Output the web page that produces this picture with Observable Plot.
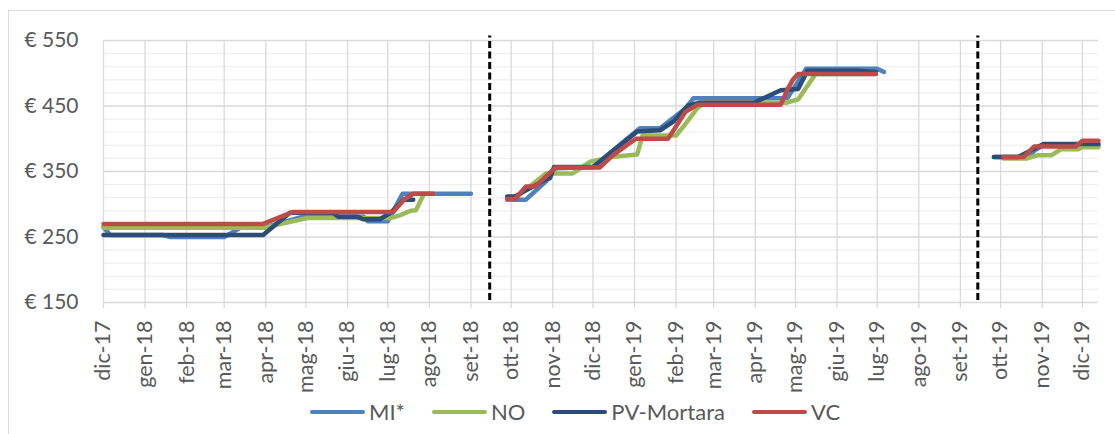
<!DOCTYPE html>
<html><head><meta charset="utf-8">
<script src="https://cdn.jsdelivr.net/npm/d3@7"></script>
<script src="https://cdn.jsdelivr.net/npm/@observablehq/plot@0.6"></script>
<style>
body{margin:0;background:#fff;font-family:Lato,"Open Sans",sans-serif;}
#wrap{position:relative;width:1115px;height:434px;overflow:hidden;background:#fff;}
#border{position:absolute;left:8px;top:10px;width:1200px;height:500px;border:1.5px solid #d9d9d9;}
#chart{position:absolute;left:0;top:0;}
#legend{position:absolute;left:0;top:398px;width:1115px;display:flex;justify-content:flex-start;padding-left:310px;box-sizing:border-box;font-size:22px;color:#595959;line-height:28px;}
.item{display:flex;align-items:center;margin-right:27px;}
.sw{width:55px;height:4px;border-radius:2px;margin-right:4px;}
</style></head>
<body>
<div id="wrap">
  <div id="border"></div>
  <div id="chart"></div>
  <div id="legend"></div>
</div>
<script>
// ---- data ----
const seriesNames = ["MI*", "NO", "PV-Mortara", "VC"];
const seriesColors = ["#4F81BD", "#9BBB59", "#2C4D75", "#BE4B48"];

const miDates = ["2017-12-01","2017-12-06","2018-01-14","2018-01-20","2018-03-01","2018-03-13","2018-03-30","2018-04-30","2018-05-21","2018-05-25","2018-06-13","2018-06-16","2018-07-01","2018-07-12","2018-09-01","2018-09-15",
  "2018-09-28","2018-10-12","2018-10-27","2018-11-03","2018-12-01","2019-01-05","2019-01-20","2019-02-08","2019-02-14","2019-04-25","2019-05-09","2019-07-01","2019-07-06","2019-08-15",
  "2019-09-26","2019-10-21","2019-10-27","2019-11-02","2019-12-13"];
const miValues = [265,253,253,250,250,264,264,282,284,281,281,274,274,316,316,null,
  307,307,335,355,357,416,416,446,462,462,507,507,502,null,
  372,372,383,390,390];

const noDates = ["2017-12-01","2018-03-30","2018-05-02","2018-07-03","2018-07-10","2018-07-18","2018-07-22","2018-07-28","2018-08-04","2018-09-15",
  "2018-09-28","2018-10-03","2018-10-27","2018-11-16","2018-11-29","2018-12-14","2019-01-03","2019-01-07","2019-02-01","2019-02-07","2019-02-17","2019-02-23","2019-04-24","2019-05-03","2019-05-16","2019-06-28","2019-08-15",
  "2019-10-03","2019-10-21","2019-10-29","2019-11-08","2019-11-15","2019-11-28","2019-12-01","2019-12-13"];
const noValues = [264,264,279,279,283,290,291,316,316,null,
  308,308,347,347,365,372,376,405,405,420,447,455,455,460,499,499,null,
  370,370,375,375,384,384,387,387];

const pvDates = ["2017-12-01","2018-03-30","2018-04-19","2018-05-21","2018-05-25","2018-06-08","2018-06-13","2018-06-25","2018-07-03","2018-07-13","2018-07-20","2018-09-15",
  "2018-09-28","2018-10-04","2018-10-27","2018-10-30","2018-11-02","2018-12-01","2019-01-03","2019-01-20","2019-01-30","2019-02-10","2019-02-19","2019-03-31","2019-04-20","2019-05-03","2019-05-10","2019-06-16","2019-06-30","2019-08-15",
  "2019-09-26","2019-10-14","2019-11-02","2019-12-13"];
const pvValues = [253,253,287,287,281,281,277,277,287,307,307,null,
  312,312,338,340,357,357,411,413,426,451,455,455,474,476,504,504,502,null,
  372,372,392,392];

const vcDates = ["2017-12-01","2018-03-30","2018-04-21","2018-07-05","2018-07-13","2018-07-20","2018-08-04","2018-09-15",
  "2018-09-28","2018-10-04","2018-10-12","2018-10-19","2018-11-03","2018-12-06","2018-12-16","2019-01-02","2019-01-26","2019-02-08","2019-02-17","2019-04-20","2019-04-25","2019-04-29","2019-05-03","2019-06-30","2019-08-15",
  "2019-10-03","2019-10-18","2019-10-26","2019-11-26","2019-12-01","2019-12-13"];
const vcValues = [270,270,288,288,307,316,316,null,
  308,308,327,327,356,356,375,400,400,441,452,452,475,490,499,499,null,
  372,372,388,388,397,397];

const dashDates = ["2018-09-15", "2019-09-14"];
const yTicks = [150, 250, 350, 450, 550];
const yMinorTicks = [170,190,210,230,270,290,310,330,370,390,410,430,470,490,510,530];
const monthLabels = ["dic-17","gen-18","feb-18","mar-18","apr-18","mag-18","giu-18","lug-18","ago-18","set-18","ott-18","nov-18","dic-18",
  "gen-19","feb-19","mar-19","apr-19","mag-19","giu-19","lug-19","ago-19","set-19","ott-19","nov-19","dic-19"];

// ---- build ----
const parse = d3.utcParse("%Y-%m-%d");
const rows = (dates, values) => dates.map((d, i) => ({date: parse(d), value: values[i]}));
const allSeries = [rows(miDates, miValues), rows(noDates, noValues), rows(pvDates, pvValues), rows(vcDates, vcValues)];
const monthTicks = monthLabels.map((_, i) => d3.utcMonth.offset(parse("2017-12-01"), i));
const labelOf = new Map(monthTicks.map((d, i) => [+d, monthLabels[i]]));

const chart = Plot.plot({
  width: 1115,
  height: 400,
  marginLeft: 103,
  marginRight: 17,
  marginTop: 40,
  marginBottom: 98,
  style: {fontFamily: "Lato, 'Open Sans', sans-serif", fontSize: "21px", color: "#595959", background: "transparent"},
  x: {type: "utc", domain: [parse("2017-12-01"), parse("2019-12-13")]},
  y: {domain: [150, 550]},
  marks: [
    Plot.ruleY(yMinorTicks, {stroke: "#efefef", strokeWidth: 1.3}),
    Plot.ruleX(monthTicks, {stroke: "#d9d9d9", strokeWidth: 1.3}),
    Plot.ruleY(yTicks, {stroke: "#d9d9d9", strokeWidth: 1.3}),
    Plot.axisY({ticks: yTicks, tickFormat: d => "€ " + d, tickSize: 0, tickPadding: 25, label: null, fontSize: 21}),
    Plot.axisX({ticks: monthTicks, tickFormat: d => labelOf.get(+d), tickRotate: -90, tickSize: 6, tickPadding: 12, stroke: "#d9d9d9", strokeWidth: 1.3, label: null, fontSize: 21.5}),
    Plot.ruleX(dashDates.map(parse), {y1: 153, y2: 557, stroke: "#000", strokeWidth: 3, strokeDasharray: "7 3.5"}),
    ...allSeries.map((data, k) => Plot.line(data, {x: "date", y: "value", stroke: seriesColors[k], strokeWidth: 4.5, strokeLinejoin: "round", strokeLinecap: "round"}))
  ]
});
document.getElementById("chart").appendChild(chart);

const legend = document.getElementById("legend");
seriesNames.forEach((name, k) => {
  const item = document.createElement("div");
  item.className = "item";
  const sw = document.createElement("span");
  sw.className = "sw";
  sw.style.background = seriesColors[k];
  const t = document.createElement("span");
  t.textContent = name;
  item.appendChild(sw); item.appendChild(t);
  legend.appendChild(item);
});
</script>
</body></html>
